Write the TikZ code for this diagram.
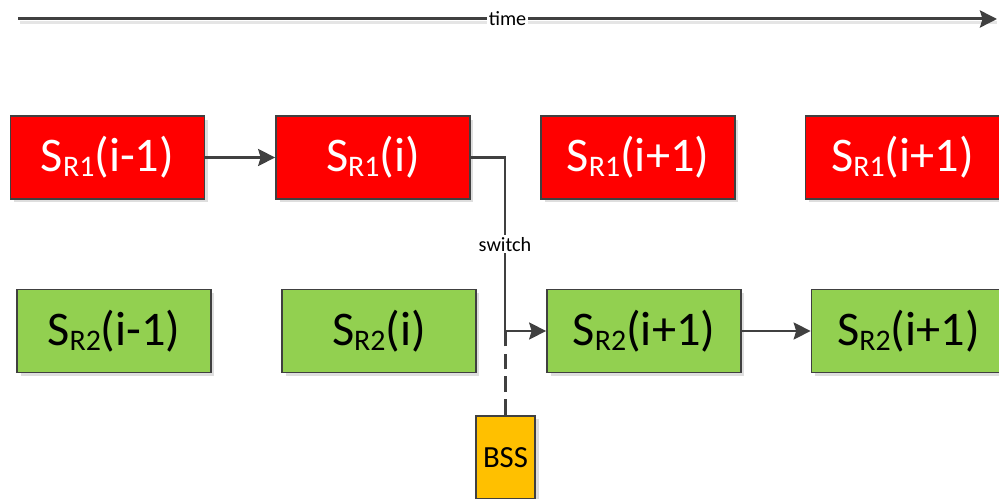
\documentclass[tikz,border=0pt]{standalone}
\usepackage{fontspec}
\setmainfont{Carlito}
\usepackage{tikz}
\usetikzlibrary{arrows.meta, shadows}
\usetikzlibrary{calc}

\definecolor{boxred}{HTML}{FF0000}
\definecolor{boxgreen}{HTML}{92D050}
\definecolor{boxbss}{HTML}{FFC000}
\definecolor{edge}{HTML}{404040}

\newcommand{\srlab}[2]{S\raisebox{-0.1em}{\fontsize{17}{17}\selectfont R#1}(#2)}

\begin{document}
\begin{tikzpicture}[x=0.02cm, y=-0.02cm,
    slot/.style={draw=edge, line width=1pt, minimum width=3.88cm, minimum height=1.66cm,
        inner sep=0pt, font=\fontsize{27.5}{30}\selectfont,
        general shadow={fill=black!13, shadow xshift=0.07cm, shadow yshift=-0.07cm}},
    redslot/.style={slot, fill=boxred, text=white},
    greenslot/.style={slot, fill=boxgreen, text=black},
    link/.style={draw=edge, line width=1.4pt, -{Stealth[length=0.34cm, width=0.34cm, inset=0.05cm]}}]
    \useasboundingbox (0, 0) rectangle (999, 499);
\coordinate (t0) at (18, 19);
\coordinate (t1) at (997, 19);
\draw[black!10, line width=1.6pt] ($(t0)+(2, 3.5)$) -- ($(t1)+(0, 3.5)$);
\draw[link, line width=1.7pt] (t0) -- node[fill=white, inner sep=1pt, text=black, font=\fontsize{11.5}{12}\selectfont] {time} (t1);
% first row
\node[redslot] (r1a) at (107.5, 157.5) {\srlab{1}{i-1}};
\node[redslot] (r1b) at (373, 157.5) {\srlab{1}{i}};
\node[redslot] (r1c) at (638, 157.5) {\srlab{1}{i+1}};
\node[redslot] (r1d) at (902.5, 157.5) {\srlab{1}{i+1}};
% second row
\node[greenslot] (r2a) at (114, 331) {\srlab{2}{i-1}};
\node[greenslot] (r2b) at (379, 331) {\srlab{2}{i}};
\node[greenslot] (r2c) at (644, 331) {\srlab{2}{i+1}};
\node[greenslot] (r2d) at (908.5, 331) {\srlab{2}{i+1}};
\node[slot, fill=boxbss, minimum width=1.18cm, font=\fontsize{17.5}{18}\selectfont,
    anchor=north] (bss) at (505.5, 415) {BSS};
\draw[link] (r1a) -- (r1b);
\draw[link] (r2c) -- (r2d);
\coordinate (bend) at (505, 157.5);
\draw[link] (r1b.east) -- (bend) -- node[fill=white, inner sep=1pt, text=black,
    font=\fontsize{11.5}{12}\selectfont] {switch} (bend |- r2c.west) -- (r2c.west);
\draw[edge, line width=1.4pt, dashed, dash pattern=on 9pt off 4pt] (bss.north) -- (bss.north |- r2c.west);
    \end{tikzpicture}
\end{document}
